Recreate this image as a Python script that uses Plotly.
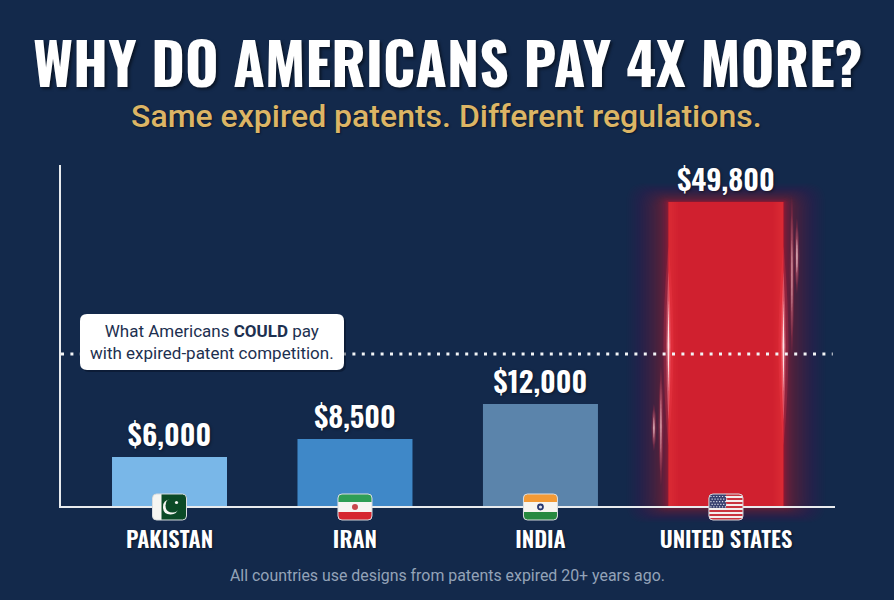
import plotly.graph_objects as go

# ---- data ----
countries = ["PAKISTAN", "IRAN", "INDIA", "UNITED STATES"]
value_labels = ["$6,000", "$8,500", "$12,000", "$49,800"]
# The reference's bars are not drawn to true scale, so the heights as drawn are kept apart from the printed labels.
drawn_heights = [5900, 8060, 12270, 36600]
bar_colors = ["#79b7e8", "#3f88c8", "#5b84ab", "#d0202f"]
reference_level = 18290
title_text = "WHY DO AMERICANS PAY 4X MORE?"
subtitle_text = "Same expired patents. Different regulations."
callout_text = "What Americans <b>COULD</b> pay<br>with expired-patent competition."
footnote_text = "All countries use designs from patents expired 20+ years ago."

BG = "#13294b"
W, H = 894, 600
L, R, T, B = 61, 59, 165, 94
XMIN, XMAX = -0.585, 3.588
YMAX = 41040
COND = "Oswald, Roboto Condensed, sans-serif"
SANS = "Roboto, sans-serif"

shapes = []


def xp(i):
    """Category position as a paper x."""
    return (i - XMIN) / (XMAX - XMIN)


def yp(v):
    """Value as a paper y."""
    return v / YMAX


def rr(x0, y0, x1, y1, tl=0, tr=0, br=0, bl=0):
    """Rounded rectangle path; y is up, in pixels from the anchor."""
    return (f"M {x0+bl} {y0} L {x1-br} {y0} Q {x1} {y0} {x1} {y0+br} "
            f"L {x1} {y1-tr} Q {x1} {y1} {x1-tr} {y1} L {x0+tl} {y1} "
            f"Q {x0} {y1} {x0} {y1-tl} L {x0} {y0+bl} Q {x0} {y0} {x0+bl} {y0} Z")


def px_shape(path, i, v, fill, layer="above", line=None):
    # paper references keep these from being clipped at the axes
    shapes.append(dict(type="path", path=path, xsizemode="pixel", ysizemode="pixel",
                       xanchor=xp(i), yanchor=yp(v), xref="paper", yref="paper", fillcolor=fill,
                       line=line or dict(width=0), layer=layer))


def circle(cx, cy, r):
    return (f"M {cx-r} {cy} Q {cx-r} {cy+r} {cx} {cy+r} Q {cx+r} {cy+r} {cx+r} {cy} "
            f"Q {cx+r} {cy-r} {cx} {cy-r} Q {cx-r} {cy-r} {cx-r} {cy} Z")


# ---- glow behind the US bar ----
US = 3
BAR_H = 304
N = 40
for i in range(N):
    t = (N - i) / N
    g = 42 * t ** 1.9
    r = min(g, 18)
    alpha = round(0.012 + 0.05 * (1 - t) ** 2, 3)
    px_shape(rr(-57.5 - g, -g * 0.4, 57.5 + g, BAR_H + g * 0.45, r, r, r, r), US, 0,
             f"rgba(232,42,58,{alpha})", layer="below")


def streak(xo, y0, y1, w, color):
    ym = (y0 + y1) / 2
    px_shape(f"M {xo} {y0} Q {xo+w} {ym} {xo} {y1} Q {xo-w} {ym} {xo} {y0} Z", US, 0, color)


def flare(xo, y0, y1, k=1.0, bright=0.9):
    streak(xo, y0, y1, 10 * k, "rgba(255,70,90,0.20)")
    streak(xo, y0 + (y1 - y0) * .12, y1 - (y1 - y0) * .12, 4.5 * k, "rgba(255,150,165,0.40)")
    streak(xo, y0 + (y1 - y0) * .27, y1 - (y1 - y0) * .27, 1.8 * k, f"rgba(255,240,240,{bright})")


# lighter inner edges of the red bar
for i in range(5):
    d = 2 + i * 2
    for x0, x1 in ((-57.5, -57.5 + d), (57.5 - d, 57.5)):
        px_shape(rr(x0, 0, x1, BAR_H), US, 0, "rgba(255,70,85,0.05)")
flare(-57.5, 60, 260, 1.0)
flare(57.5, 60, 260, 1.0)
flare(66, 150, 310, 0.45, 0.55)
flare(71, 212, 288, 0.5)
flare(-65, 20, 140, 0.5, 0.7)
flare(-72, 55, 102, 0.5)

# ---- dotted reference line ----
shapes.append(dict(type="line", xref="paper", yref="y", x0=0, x1=0.997,
                   y0=reference_level, y1=reference_level,
                   line=dict(color="#f2f4f6", width=3, dash="3px,6.4px"), layer="above"))

# ---- callout box ----
px_shape(rr(21, -18, 285, 38, 7, 7, 7, 7), XMIN, reference_level, "rgba(4,14,30,0.45)")
px_shape(rr(19, -16, 283, 40, 7, 7, 7, 7), XMIN, reference_level, "#ffffff")

# ---- flags, 34x26 px centred on the axis at each bar ----
FW, FH, FR = 17, 13, 4
FLAG_Y = -120  # one pixel below the axis zero
BORDER = dict(color="#d9dde0", width=1)


def flag_frame(i):
    px_shape(rr(-FW, -FH, FW, FH, FR, FR, FR, FR), i, FLAG_Y, "rgba(0,0,0,0)", line=BORDER)


# Pakistan
px_shape(rr(-FW, -FH, FW, FH, FR, FR, FR, FR), 0, FLAG_Y, "#0b4a26")
px_shape(rr(-FW, -FH, -8, FH, FR, 0, 0, FR), 0, FLAG_Y, "#f6f6f2")
px_shape(circle(1, 0, 7.5), 0, FLAG_Y, "#f6f6f2")
px_shape(circle(3, 1.5, 7), 0, FLAG_Y, "#0b4a26")
px_shape(circle(7, 4.5, 1.6), 0, FLAG_Y, "#f6f6f2")
flag_frame(0)
# Iran
px_shape(rr(-FW, -FH, FW, FH, FR, FR, FR, FR), 1, FLAG_Y, "#f7f5f3")
px_shape(rr(-FW, 5, FW, FH, FR, FR, 0, 0), 1, FLAG_Y, "#2f9e55")
px_shape(rr(-FW, -FH, FW, -5, 0, 0, FR, FR), 1, FLAG_Y, "#d6262f")
px_shape(circle(0, 0, 3), 1, FLAG_Y, "#c9474c")
flag_frame(1)
# India
px_shape(rr(-FW, -FH, FW, FH, FR, FR, FR, FR), 2, FLAG_Y, "#f7f5f0")
px_shape(rr(-FW, 5, FW, FH, FR, FR, 0, 0), 2, FLAG_Y, "#f39a35")
px_shape(rr(-FW, -FH, FW, -5, 0, 0, FR, FR), 2, FLAG_Y, "#27893f")
px_shape(circle(0, 0, 3.4), 2, FLAG_Y, "#27366f")
px_shape(circle(0, 0, 1.6), 2, FLAG_Y, "#dfe2ea")
flag_frame(2)
# United States
px_shape(rr(-FW, -FH, FW, FH, FR, FR, FR, FR), 3, FLAG_Y, "#f3eeee")
sh = 2 * FH / 13
for s in range(0, 13, 2):
    y0 = FH - (s + 1) * sh
    y1 = FH - s * sh
    rad_t = FR if s == 0 else 0
    rad_b = FR if s == 12 else 0
    px_shape(rr(-FW, y0, FW, y1, rad_t, rad_t, rad_b, rad_b), 3, FLAG_Y, "#c9333f")
px_shape(rr(-FW, -1, 0, FH, FR, 0, 0, 0), 3, FLAG_Y, "#39406f")
for row in range(5):
    for col in range(6):
        cx = -FW + 2 + col * 2.9 + (1.2 if row % 2 else 0)
        cy = FH - 2.5 - row * 2.6
        px_shape(rr(cx - .6, cy - .6, cx + .6, cy + .6), 3, FLAG_Y, "#d8dbe8")
flag_frame(3)


def py(y_px):
    """Convert a page y pixel to paper coordinates of the plot area."""
    return 1 - (y_px - T) / (H - T - B)


def px(x_px):
    return (x_px - L) / (W - L - R)


fig = go.Figure(go.Bar(
    x=countries, y=drawn_heights, width=0.62, marker=dict(color=bar_colors, line=dict(width=0)),
    text=value_labels, textposition="outside", cliponaxis=False,
    textfont=dict(family=COND, size=29, color="#ffffff", weight=600,
                  shadow="1px 1px 3px rgba(0,0,0,0.45)"),
    hoverinfo="skip",
))

annotations = [
    dict(text=title_text, xref="paper", yref="paper", x=px(447.5), y=py(61), showarrow=False,
         xanchor="center", yanchor="middle",
         font=dict(family=COND, size=57.5, color="#ffffff", weight=700,
                   shadow="2px 2px 3px rgba(0,0,0,0.5)")),
    dict(text=subtitle_text, xref="paper", yref="paper", x=px(446), y=py(116), showarrow=False,
         xanchor="center", yanchor="middle",
         font=dict(family=SANS, size=32, color="#dcb565", weight=500,
                   shadow="1px 1px 2px rgba(0,0,0,0.45)")),
    dict(text=callout_text, xref="paper", yref="paper", x=px(212), y=py(342), showarrow=False,
         xanchor="center", yanchor="middle", align="center",
         font=dict(family=SANS, size=17, color="#1d3050")),
    dict(text=footnote_text, xref="paper", yref="paper", x=px(447), y=py(575), showarrow=False,
         xanchor="center", yanchor="middle",
         font=dict(family=SANS, size=15.9, color="#93a3b8")),
]

fig.update_layout(
    width=W, height=H, margin=dict(l=L, r=R, t=T, b=B, pad=0), autosize=False,
    paper_bgcolor=BG, plot_bgcolor="rgba(0,0,0,0)", showlegend=False,
    shapes=shapes, annotations=annotations,
    xaxis=dict(type="category", categoryorder="array", categoryarray=countries,
               range=[XMIN, XMAX], showline=True, linecolor="#e8ebee", linewidth=2,
               showgrid=False, zeroline=False, ticks="", ticklabelstandoff=13,
               tickfont=dict(family=COND, size=22.5, color="#ffffff", weight=600,
                             shadow="1px 1px 2px rgba(0,0,0,0.5)")),
    yaxis=dict(range=[0, YMAX], showline=True, linecolor="#e8ebee", linewidth=2,
               showgrid=False, zeroline=False, showticklabels=False, ticks=""),
)

fig.write_html("out.html", config=dict(displayModeBar=False),
               post_script="document.body.style.margin='0';document.body.style.background='%s';" % BG)
